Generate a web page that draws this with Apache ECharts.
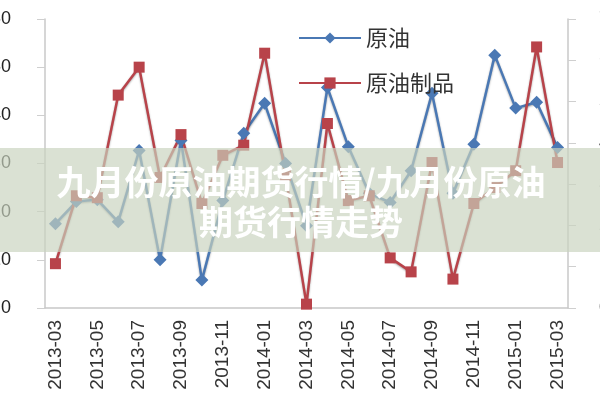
<!DOCTYPE html>
<html>
<head>
<meta charset="utf-8">
<script src="https://cdn.jsdelivr.net/npm/echarts@6/dist/echarts.min.js"></script>
<style>html,body{margin:0;padding:0;background:#fff;}#c{width:600px;height:400px;}</style>
</head>
<body>
<div id="c"></div>
<script>
var categories = ['2013-03','2013-04','2013-05','2013-06','2013-07','2013-08','2013-09','2013-10','2013-11','2013-12',
  '2014-01','2014-02','2014-03','2014-04','2014-05','2014-06','2014-07','2014-08','2014-09','2014-10','2014-11','2014-12',
  '2015-01','2015-02','2015-03'];
var crudeOil = [17.5,22.1,22.5,17.9,32.7,10.0,34.8,5.8,22.3,36.3,42.5,30.0,17.1,45.8,33.5,23.8,21.9,28.5,44.6,23.8,34.0,52.5,41.5,42.7,33.3];
var oilProducts = [9.2,23.3,22.9,44.2,50.0,27.1,36.0,21.7,31.7,33.8,52.9,27.5,0.8,38.3,22.3,23.3,10.4,7.5,30.2,6.0,21.7,25.0,28.5,54.2,30.2];
var seriesNames = ['原油','原油制品'];
var leftTicks = [0,10,20,30,40,50,60];
var rightTicks = [0,1,2,3,4,5,6,7];
var bannerText = '九月份原油期货行情/九月份原油\n期货行情走势';

var chart = echarts.init(document.getElementById('c'));
chart.setOption({
  animation: false,
  backgroundColor: '#ffffff',
  grid: {left: 45, right: 32, top: 19, bottom: 92, outerBoundsMode: 'none', containLabel: false},
  legend: {
    orient: 'vertical', left: 293, top: 22,
    itemWidth: 62, itemHeight: 14, itemGap: 23,
    textStyle: {fontSize: 22, color: '#333', fontFamily: 'Noto Sans CJK SC'},
    data: seriesNames
  },
  xAxis: {
    type: 'category', data: categories, boundaryGap: true,
    axisLine: {lineStyle: {color: '#c8c8c8', width: 1.5}},
    axisTick: {show: false},
    axisLabel: {interval: 1, rotate: 90, margin: 12, fontSize: 19, color: '#333', fontFamily: 'Liberation Sans'}
  },
  yAxis: [{
    type: 'value', min: leftTicks[0], max: leftTicks[leftTicks.length-1], interval: 10,
    splitLine: {show: false},
    axisLine: {show: true, lineStyle: {color: '#c8c8c8', width: 1.5}},
    axisTick: {show: true, length: 8, lineStyle: {color: '#cfcfcf'}},
    axisLabel: {margin: 34, fontSize: 18, color: '#222', fontFamily: 'Liberation Sans'}
  }, {
    type: 'value', position: 'right', min: rightTicks[0], max: rightTicks[rightTicks.length-1], interval: 1,
    splitLine: {show: false},
    axisLine: {show: true, lineStyle: {color: '#c8c8c8', width: 1.5}},
    axisTick: {show: true, length: 8, lineStyle: {color: '#cfcfcf'}},
    axisLabel: {margin: 31, fontSize: 18, color: '#222', fontFamily: 'Liberation Sans'}
  }],
  series: [{
    name: seriesNames[0], type: 'line', data: crudeOil, yAxisIndex: 0,
    symbol: 'diamond', symbolSize: 13, showAllSymbol: true,
    itemStyle: {color: '#4a78b4'},
    lineStyle: {width: 2.5, color: '#4a78b4', shadowColor: 'rgba(0,0,0,0.35)', shadowBlur: 2, shadowOffsetY: 1}
  }, {
    name: seriesNames[1], type: 'line', data: oilProducts, yAxisIndex: 0,
    symbol: 'rect', symbolSize: 11, showAllSymbol: true,
    itemStyle: {color: '#b8434a'},
    lineStyle: {width: 2.5, color: '#b8434a', shadowColor: 'rgba(0,0,0,0.35)', shadowBlur: 2, shadowOffsetY: 1}
  }],
  graphic: [{
    type: 'rect', z: 100, x: 0, y: 148,
    shape: {width: 600, height: 104},
    style: {fill: 'rgba(200,211,190,0.68)'}
  }, {
    type: 'text', z: 101, x: 301, y: 202,
    style: {
      text: bannerText, fill: '#ffffff', fontSize: 34, fontWeight: 'bold',
      fontFamily: 'Noto Sans CJK SC', lineHeight: 40, align: 'center', verticalAlign: 'middle'
    }
  }]
});
</script>
</body>
</html>
